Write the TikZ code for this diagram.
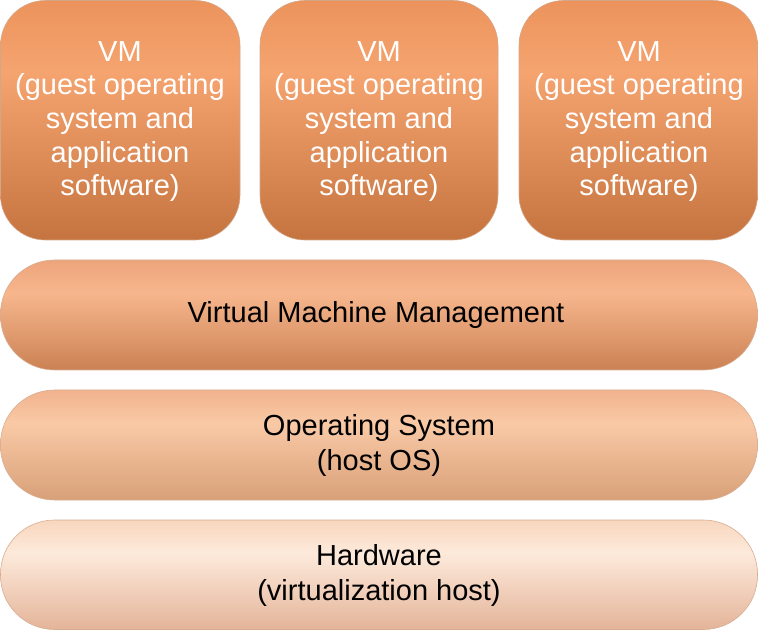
\documentclass[tikz,border=0pt]{standalone}
\usepackage{fontspec}
\setmainfont{Liberation Sans}
\definecolor{vmT}{HTML}{EC935C}
\definecolor{vmM}{HTML}{F5A470}
\definecolor{vmB}{HTML}{C6743F}
\definecolor{aT}{HTML}{EDA47B}
\definecolor{aM}{HTML}{F7B68D}
\definecolor{aB}{HTML}{CB8253}
\definecolor{bT}{HTML}{F1B38D}
\definecolor{bM}{HTML}{F9C9A6}
\definecolor{bB}{HTML}{D8A078}
\definecolor{cT}{HTML}{F8D6BE}
\definecolor{cM}{HTML}{FDEADB}
\definecolor{cB}{HTML}{E4B499}
\definecolor{edge}{HTML}{B86A3A}
\pgfdeclareverticalshading{vmshade}{100bp}{color(0bp)=(vmB); color(25bp)=(vmB); color(60bp)=(vmM); color(75bp)=(vmT); color(100bp)=(vmT)}
\pgfdeclareverticalshading{barAshade}{100bp}{color(0bp)=(aB); color(25bp)=(aB); color(60bp)=(aM); color(75bp)=(aT); color(100bp)=(aT)}
\pgfdeclareverticalshading{barBshade}{100bp}{color(0bp)=(bB); color(25bp)=(bB); color(60bp)=(bM); color(75bp)=(bT); color(100bp)=(bT)}
\pgfdeclareverticalshading{barCshade}{100bp}{color(0bp)=(cB); color(25bp)=(cB); color(60bp)=(cM); color(75bp)=(cT); color(100bp)=(cT)}
\begin{document}
\begin{tikzpicture}[x=1pt,y=1pt,
  vmbox/.style={rounded corners=45pt, shading=vmshade, draw=edge!60, line width=0.6pt},
  bar/.style={rounded corners=54pt, draw=edge!55, line width=0.6pt},
  vmtext/.style={text=white, align=center, font=\fontsize{29}{33.7}\selectfont},
  bartext/.style={text=black, align=center, font=\fontsize{29}{35}\selectfont}]
\useasboundingbox (0,0) rectangle (758,630);
% VM boxes
\path[vmbox] (0.5,390) rectangle (240,629.5);
\path[vmbox] (260,390) rectangle (498,629.5);
\path[vmbox] (519,390) rectangle (757.5,629.5);
\node[vmtext] (vm1) at (120,508.5) {VM\\(guest operating\\system and\\application\\software)};
\node[vmtext] (vm2) at (379,508.5) {VM\\(guest operating\\system and\\application\\software)};
\node[vmtext] (vm3) at (639,508.5) {VM\\(guest operating\\system and\\application\\software)};
% bars
\path[bar, shading=barAshade] (0.5,260) rectangle (757.5,370);
\path[bar, shading=barBshade] (0.5,130) rectangle (757.5,240);
\path[bar, shading=barCshade] (0.5,0.5) rectangle (757.5,110);
\node[bartext] (vmm) at (376,315) {Virtual Machine Management};
\node[bartext] (os) at (379,185) {Operating System\\(host OS)};
\node[bartext] (hw) at (379,55) {Hardware\\(virtualization host)};
\end{tikzpicture}
\end{document}
